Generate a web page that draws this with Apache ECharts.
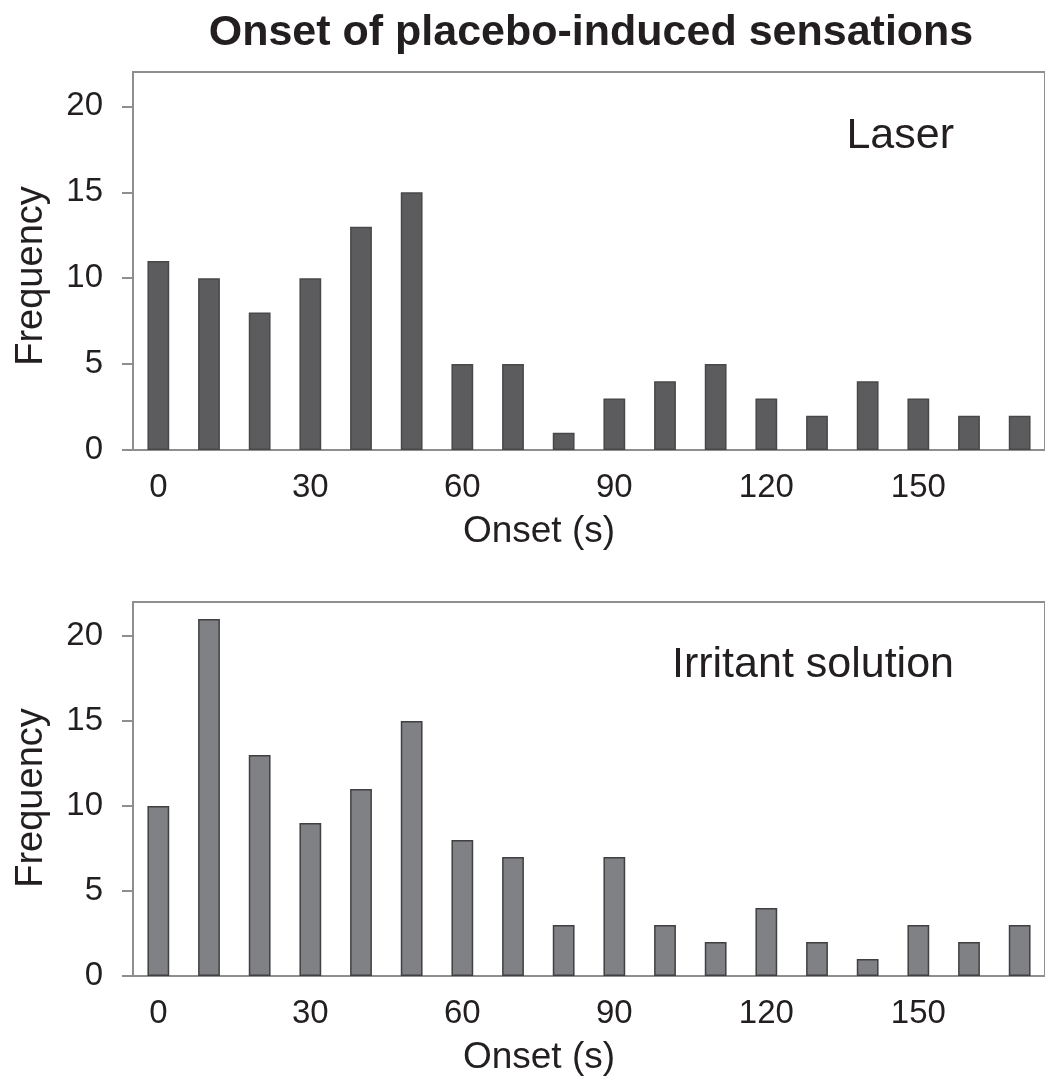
<!DOCTYPE html>
<html>
<head>
<meta charset="utf-8">
<script src="https://cdn.jsdelivr.net/npm/echarts@6/dist/echarts.min.js"></script>
<style>html,body{margin:0;padding:0;background:#fff}#c{width:1045px;height:1080px}</style>
</head>
<body>
<div id="c"></div>
<script>
const categories = ['0','10','20','30','40','50','60','70','80','90','100','110','120','130','140','150','160','170'];
const laserValues = [11,10,8,10,13,15,5,5,1,3,4,5,3,2,4,3,2,2];
const irritantValues = [10,21,13,9,11,15,8,7,3,7,3,2,4,2,1,3,2,3];
const yTicks = [0,5,10,15,20];

const FONT = '"Liberation Sans", Arial, Helvetica, sans-serif';
const TXT = '#231f20';
const AX = '#8e8e8e';

function xAxisCfg(gi) {
  return {
    type: 'category', gridIndex: gi, data: categories,
    boundaryGap: true,
    axisLine: { lineStyle: { color: AX, width: 2 } },
    axisTick: { alignWithLabel: true, interval: 0, length: 9, lineStyle: { color: AX, width: 2 } },
    axisLabel: { interval: 2, color: TXT, fontFamily: FONT, fontSize: 33, margin: 21 },
    name: 'Onset (s)', nameLocation: 'middle', nameGap: 63,
    nameTextStyle: { color: TXT, fontFamily: FONT, fontSize: 37, padding: [0, 100, 0, 0] }
  };
}
function yAxisCfg(gi, shift) {
  return {
    type: 'value', gridIndex: gi, min: 0, max: 22, interval: 5,
    splitLine: { show: false },
    axisLine: { show: true, lineStyle: { color: AX, width: 2 } },
    axisTick: { show: true, length: 11, customValues: yTicks, lineStyle: { color: AX, width: 2 } },
    axisLabel: { customValues: yTicks, color: TXT, fontFamily: FONT, fontSize: 33, margin: 30 },
    name: 'Frequency', nameLocation: 'middle', nameRotate: 90, nameGap: 82,
    nameTextStyle: { color: TXT, fontFamily: FONT, fontSize: 38, padding: [0, shift * 2, 0, 0] }
  };
}

const chart = echarts.init(document.getElementById('c'), null, { renderer: 'canvas' });
chart.setOption({
  backgroundColor: '#ffffff',
  animation: false,
  title: [
    { text: 'Onset of placebo-induced sensations', left: 586, top: 7, textAlign: 'center',
      textStyle: { color: TXT, fontFamily: FONT, fontWeight: 'bold', fontSize: 43 } },
    { text: 'Laser', left: 949, top: 110, textAlign: 'right',
      textStyle: { color: TXT, fontFamily: FONT, fontWeight: 'normal', fontSize: 43 } },
    { text: 'Irritant solution', left: 949, top: 639, textAlign: 'right',
      textStyle: { color: TXT, fontFamily: FONT, fontWeight: 'normal', fontSize: 43 } }
  ],
  grid: [
    { left: 133, top: 72, width: 925, height: 378, show: true, borderColor: AX, borderWidth: 2, backgroundColor: 'transparent' },
    { left: 133, top: 602, width: 925, height: 374, show: true, borderColor: AX, borderWidth: 2, backgroundColor: 'transparent' }
  ],
  xAxis: [xAxisCfg(0), xAxisCfg(1)],
  yAxis: [yAxisCfg(0, 15), yAxisCfg(1, 9)],
  series: [
    { type: 'bar', xAxisIndex: 0, yAxisIndex: 0, data: laserValues, barWidth: '43%',
      itemStyle: { color: '#5c5c5e', borderColor: '#48484a', borderWidth: 1.5 } },
    { type: 'bar', xAxisIndex: 1, yAxisIndex: 1, data: irritantValues, barWidth: '43%',
      itemStyle: { color: '#808184', borderColor: '#404042', borderWidth: 1.5 } }
  ]
});
</script>
</body>
</html>
